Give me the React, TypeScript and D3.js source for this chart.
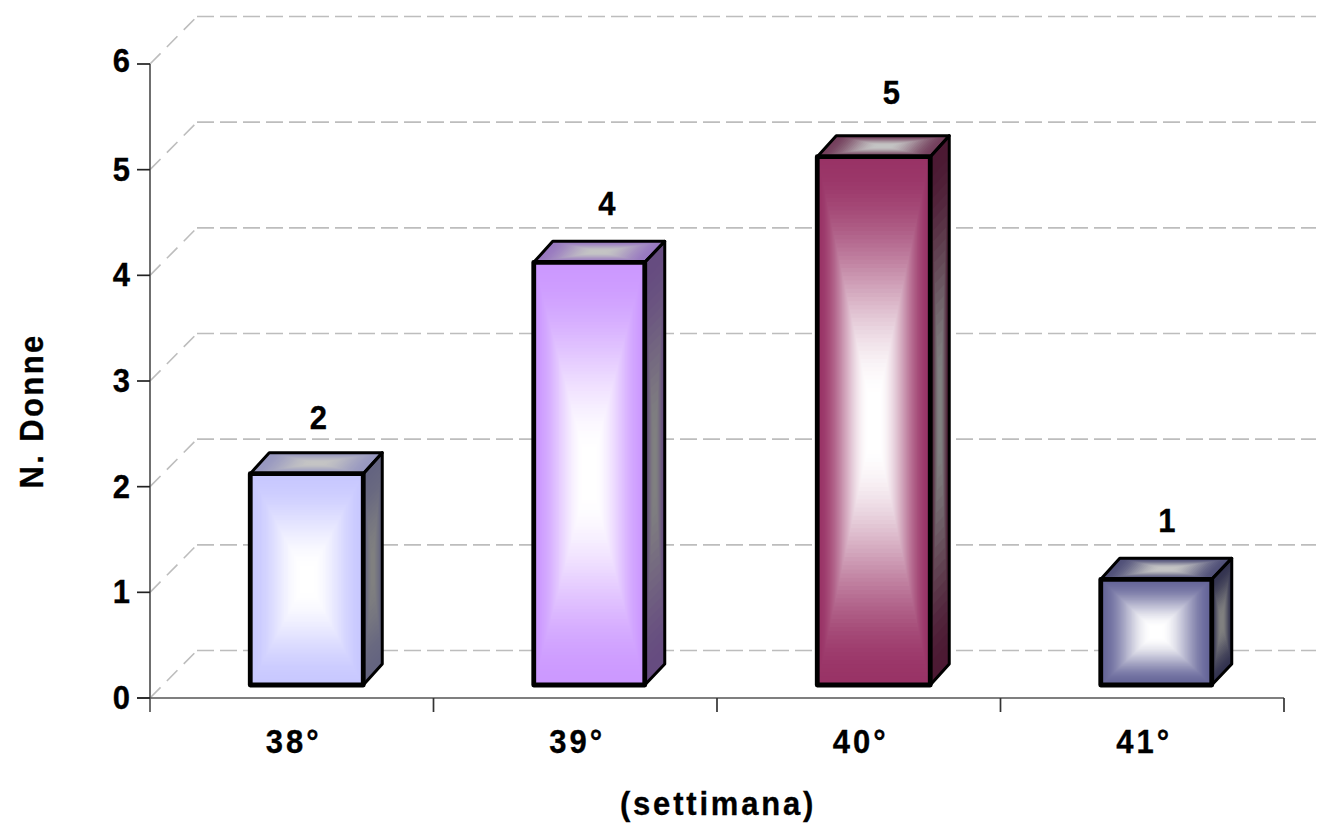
import React from "react";
import * as d3 from "d3";

const weeks = ["38°", "39°", "40°", "41°"];
const counts = [2, 4, 5, 1];
const yTicks = [0, 1, 2, 3, 4, 5, 6];
const faceColors = ["#c8c8ff", "#cc99ff", "#993366", "#666699"];
const sideColors = ["#646480", "#664c80", "#4c1933", "#333350"];
const topColors = ["#9898c0", "#9878c0", "#743f5c", "#505078"];

type Pt = [number, number];
const W = 1324;
const H = 825;
const plotLeft = 150;
const plotRight = 1284;
const plotBottom = 698;
const plotTop = 64;
const wallDx = 47;
const wallDy = 47.5;
const barInset = 13;
const barDepth = 19;
const barDepthY = 21;
const FONT = "'Liberation Sans', Arial, sans-serif";

const x = d3.scaleBand<string>().domain(weeks).range([plotLeft, plotRight]).padding(0);
const y = d3.scaleLinear().domain([0, 6]).range([plotBottom, plotTop]);

const poly = (pts: Pt[]) => pts.map((p) => p.join(",")).join(" ");
const smooth = (t: number) => {
  const u = Math.min(1, t * 1.08);
  return u * u * (3 - 2 * u);
};

// Box gradient: nested copies of a face shrinking toward its centre, from edge colour to centre colour.
function BoxGradient({ pts, edge, centre, steps = 64 }: { pts: Pt[]; edge: string; centre: string; steps?: number }) {
  const cx = d3.mean(pts, (p) => p[0])!;
  const cy = d3.mean(pts, (p) => p[1])!;
  const mix = d3.interpolateRgb(edge, centre);
  return (
    <g>
      {d3.range(steps).map((i) => {
        const t = i / (steps - 1);
        const k = 1 - i / steps;
        const shrunk = pts.map((p): Pt => [cx + (p[0] - cx) * k, cy + (p[1] - cy) * k]);
        return <polygon key={i} points={poly(shrunk)} fill={mix(smooth(t))} stroke="none" />;
      })}
    </g>
  );
}

// Bold label stretched vertically about its baseline.
function Label({ px, py, rotate = 0, anchor = "middle", spacing = 0, children }: {
  px: number;
  py: number;
  rotate?: number;
  anchor?: string;
  spacing?: number;
  children: React.ReactNode;
}) {
  return (
    <text
      transform={`translate(${px},${py}) rotate(${rotate}) scale(1,1.1)`}
      textAnchor={anchor}
      fontFamily={FONT}
      fontWeight="bold"
      fontSize={31}
      letterSpacing={spacing}
      stroke="#000"
      strokeWidth={0.3}
      fill="#000"
    >
      {children}
    </text>
  );
}

// Small per-bar corrections: label placement above each bar and pixel-snapped bar widths.
const labelShiftX = [0, 5, 6, -2];
const labelShiftY = [0, -2, -8, -2];
const widthTrim = [0, 2, 0, 2];

function Bar({ i }: { i: number }) {
  const week = weeks[i];
  const bw = x.bandwidth();
  const left = x(week)! + bw / 2 + 15 - 113 / 2;
  const right = left + 113 - widthTrim[i];
  const bottom = plotBottom - barInset;
  const top = y(counts[i]) - barInset;
  const front: Pt[] = [[left, top], [right, top], [right, bottom], [left, bottom]];
  const side: Pt[] = [[right, top], [right + barDepth + widthTrim[i] / 2, top - barDepthY], [right + barDepth + widthTrim[i] / 2, bottom - barDepthY], [right, bottom]];
  const lid: Pt[] = [[left, top], [left + barDepth, top - barDepthY], [right + barDepth + widthTrim[i] / 2, top - barDepthY], [right, top]];
  const outline = { fill: "none", stroke: "#000", strokeLinejoin: "round" as const };
  return (
    <g>
      <BoxGradient pts={side} edge={sideColors[i]} centre="#808080" steps={24} />
      <BoxGradient pts={lid} edge={topColors[i]} centre="#c4c4c4" steps={24} />
      <BoxGradient pts={front} edge={faceColors[i]} centre="#ffffff" />
      <polygon points={poly(side)} {...outline} strokeWidth={3} />
      <polygon points={poly(lid)} {...outline} strokeWidth={3} />
      <polygon points={poly(front)} {...outline} strokeWidth={4.8} />
      <Label px={(left + 113 / 2) + barDepth / 2 + 2 + labelShiftX[i]} py={top - barDepthY - 24 + labelShiftY[i]}>
        {counts[i]}
      </Label>
    </g>
  );
}

export default function App() {
  return (
    <svg
      width={W}
      height={H}
      viewBox={`0 0 ${W} ${H}`}
      style={{ position: "absolute", left: 0, top: 0, display: "block", background: "#fff" }}
    >
      {/* back-wall gridlines and their diagonal returns */}
      <g stroke="#bdbdbd" strokeWidth={1.6} fill="none" strokeDasharray="17 6">
        {yTicks.map((t) => (
          <g key={t}>
            <line x1={plotLeft + wallDx} x2={plotRight + 32} y1={y(t) - wallDy} y2={y(t) - wallDy} />
            <line x1={plotLeft} y1={y(t)} x2={plotLeft + wallDx} y2={y(t) - wallDy} strokeDasharray="15 9" />
          </g>
        ))}
      </g>

      {weeks.map((_, i) => (
        <Bar key={i} i={i} />
      ))}

      {/* axes */}
      <g stroke="#555" strokeWidth={1.7} fill="none">
        <line x1={plotLeft} x2={plotLeft} y1={plotTop} y2={plotBottom + 14} />
        <line x1={plotLeft - 13} x2={plotRight} y1={plotBottom} y2={plotBottom} />
        {yTicks.map((t) => (
          <line key={t} x1={plotLeft - 13} x2={plotLeft} y1={y(t)} y2={y(t)} stroke="#222" />
        ))}
        {weeks.map((w) => (
          <line key={w} x1={x(w)! + x.bandwidth()} x2={x(w)! + x.bandwidth()} y1={plotBottom} y2={plotBottom + 14} stroke="#333" />
        ))}
      </g>

      {yTicks.map((t) => (
        <Label key={t} px={130} py={y(t) + (t === 6 ? 8 : 11)} anchor="end">
          {t}
        </Label>
      ))}
      {weeks.map((w) => (
        <Label key={w} px={x(w)! + x.bandwidth() / 2 + 2} py={753} spacing={3}>
          {w}
        </Label>
      ))}
      <Label px={718} py={815} spacing={2.8}>
        (settimana)
      </Label>
      <Label px={43} py={411} rotate={-90} spacing={2.4}>
        N. Donne
      </Label>
    </svg>
  );
}
